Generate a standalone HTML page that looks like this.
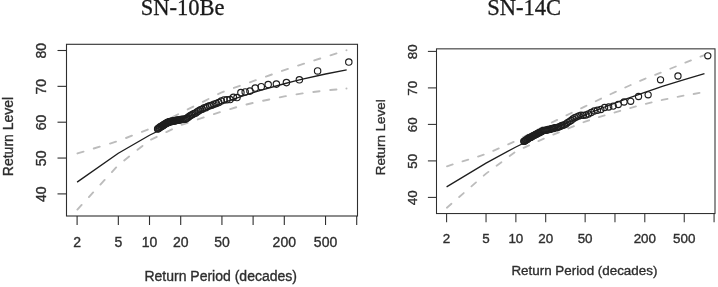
<!DOCTYPE html>
<html><head><meta charset="utf-8"><title>Return level plots</title>
<style>
html,body{margin:0;padding:0;background:#fff;}
body{width:718px;height:287px;overflow:hidden;font-family:"Liberation Sans",sans-serif;}
svg{display:block;filter:blur(0.4px);}
svg text{font-family:"Liberation Sans",sans-serif;stroke:#2e2e2e;stroke-width:0.35px;}
</style></head><body>
<svg width="718" height="287" viewBox="0 0 718 287">
<rect width="718" height="287" fill="#ffffff"/>
<rect x="66.5" y="44.3" width="291.00" height="171.70" fill="none" stroke="#2e2e2e" stroke-width="1.10"/>
<line x1="57.50" y1="193.90" x2="66.5" y2="193.90" stroke="#2e2e2e" stroke-width="1.10"/>
<text transform="translate(46.30,194.20) rotate(-90)" text-anchor="middle" font-size="14.00" fill="#2e2e2e">40</text>
<line x1="57.50" y1="158.05" x2="66.5" y2="158.05" stroke="#2e2e2e" stroke-width="1.10"/>
<text transform="translate(46.30,158.35) rotate(-90)" text-anchor="middle" font-size="14.00" fill="#2e2e2e">50</text>
<line x1="57.50" y1="122.20" x2="66.5" y2="122.20" stroke="#2e2e2e" stroke-width="1.10"/>
<text transform="translate(46.30,122.50) rotate(-90)" text-anchor="middle" font-size="14.00" fill="#2e2e2e">60</text>
<line x1="57.50" y1="86.35" x2="66.5" y2="86.35" stroke="#2e2e2e" stroke-width="1.10"/>
<text transform="translate(46.30,86.65) rotate(-90)" text-anchor="middle" font-size="14.00" fill="#2e2e2e">70</text>
<line x1="57.50" y1="50.50" x2="66.5" y2="50.50" stroke="#2e2e2e" stroke-width="1.10"/>
<text transform="translate(46.30,50.80) rotate(-90)" text-anchor="middle" font-size="14.00" fill="#2e2e2e">80</text>
<line x1="77.10" y1="216.0" x2="77.10" y2="225.00" stroke="#2e2e2e" stroke-width="1.10"/>
<text x="77.10" y="247.00" text-anchor="middle" font-size="14.00" fill="#2e2e2e">2</text>
<line x1="118.33" y1="216.0" x2="118.33" y2="225.00" stroke="#2e2e2e" stroke-width="1.10"/>
<text x="118.33" y="247.00" text-anchor="middle" font-size="14.00" fill="#2e2e2e">5</text>
<line x1="149.51" y1="216.0" x2="149.51" y2="225.00" stroke="#2e2e2e" stroke-width="1.10"/>
<text x="149.51" y="247.00" text-anchor="middle" font-size="14.00" fill="#2e2e2e">10</text>
<line x1="180.70" y1="216.0" x2="180.70" y2="225.00" stroke="#2e2e2e" stroke-width="1.10"/>
<text x="180.70" y="247.00" text-anchor="middle" font-size="14.00" fill="#2e2e2e">20</text>
<line x1="221.93" y1="216.0" x2="221.93" y2="225.00" stroke="#2e2e2e" stroke-width="1.10"/>
<text x="221.93" y="247.00" text-anchor="middle" font-size="14.00" fill="#2e2e2e">50</text>
<line x1="253.11" y1="216.0" x2="253.11" y2="225.00" stroke="#2e2e2e" stroke-width="1.10"/>
<line x1="284.30" y1="216.0" x2="284.30" y2="225.00" stroke="#2e2e2e" stroke-width="1.10"/>
<text x="284.30" y="247.00" text-anchor="middle" font-size="14.00" fill="#2e2e2e">200</text>
<line x1="325.53" y1="216.0" x2="325.53" y2="225.00" stroke="#2e2e2e" stroke-width="1.10"/>
<text x="325.53" y="247.00" text-anchor="middle" font-size="14.00" fill="#2e2e2e">500</text>
<line x1="356.71" y1="216.0" x2="356.71" y2="225.00" stroke="#2e2e2e" stroke-width="1.10"/>
<text x="220.70" y="280.70" text-anchor="middle" font-size="14.00" fill="#2e2e2e">Return Period (decades)</text>
<text transform="translate(12.50,136.50) rotate(-90)" text-anchor="middle" font-size="14.00" fill="#2e2e2e">Return Level</text>
<text x="182.50" y="15.40" text-anchor="middle" style="font-family:'Liberation Serif',serif;stroke:#1a1a1a;stroke-width:0.3px" font-size="22.5" fill="#1a1a1a">SN-10Be</text>
<path d="M77.10,153.57 L118.33,141.01 L149.51,128.84 L180.70,112.92 L221.93,92.26 L243.07,84.64 L253.11,81.17 L261.32,78.23 L284.30,70.10 L294.34,66.79 L302.54,64.11 L325.53,56.85 L346.67,50.30" fill="none" stroke="#bcbcbc" stroke-width="1.90" stroke-dasharray="6.30 10.70" stroke-dashoffset="-0.4" stroke-linecap="round"/>
<path d="M77.10,209.88 L118.33,165.03 L149.51,140.35 L180.70,125.07 L221.93,111.46 L243.07,105.25 L253.11,102.92 L261.32,101.16 L284.30,96.41 L294.34,94.72 L302.54,93.40 L325.53,90.41 L346.67,88.60" fill="none" stroke="#bcbcbc" stroke-width="1.90" stroke-dasharray="6.30 10.70" stroke-dashoffset="-0.4" stroke-linecap="round"/>
<circle cx="346.47" cy="50.30" r="1.0" fill="#bcbcbc"/>
<circle cx="346.47" cy="88.60" r="1.0" fill="#bcbcbc"/>
<path d="M77.10,182.15 L118.33,153.28 L149.51,135.24 L180.70,119.92 L221.93,103.15 L243.07,95.86 L253.11,92.67 L261.32,90.19 L284.30,83.77 L294.34,81.20 L302.54,79.20 L325.53,74.03 L346.67,69.79" fill="none" stroke="#1e1e1e" stroke-width="1.35" stroke-linejoin="round"/>
<circle cx="157.65" cy="128.96" r="3.20" fill="none" stroke="#1e1e1e" stroke-width="1.15"/>
<circle cx="158.30" cy="128.62" r="3.20" fill="none" stroke="#1e1e1e" stroke-width="1.15"/>
<circle cx="158.95" cy="128.03" r="3.20" fill="none" stroke="#1e1e1e" stroke-width="1.15"/>
<circle cx="159.62" cy="127.81" r="3.20" fill="none" stroke="#1e1e1e" stroke-width="1.15"/>
<circle cx="160.30" cy="127.04" r="3.20" fill="none" stroke="#1e1e1e" stroke-width="1.15"/>
<circle cx="160.98" cy="126.51" r="3.20" fill="none" stroke="#1e1e1e" stroke-width="1.15"/>
<circle cx="161.68" cy="126.50" r="3.20" fill="none" stroke="#1e1e1e" stroke-width="1.15"/>
<circle cx="162.39" cy="125.80" r="3.20" fill="none" stroke="#1e1e1e" stroke-width="1.15"/>
<circle cx="163.11" cy="125.39" r="3.20" fill="none" stroke="#1e1e1e" stroke-width="1.15"/>
<circle cx="163.84" cy="124.88" r="3.20" fill="none" stroke="#1e1e1e" stroke-width="1.15"/>
<circle cx="164.58" cy="124.33" r="3.20" fill="none" stroke="#1e1e1e" stroke-width="1.15"/>
<circle cx="165.34" cy="123.76" r="3.20" fill="none" stroke="#1e1e1e" stroke-width="1.15"/>
<circle cx="166.11" cy="123.45" r="3.20" fill="none" stroke="#1e1e1e" stroke-width="1.15"/>
<circle cx="166.89" cy="122.76" r="3.20" fill="none" stroke="#1e1e1e" stroke-width="1.15"/>
<circle cx="167.69" cy="122.22" r="3.20" fill="none" stroke="#1e1e1e" stroke-width="1.15"/>
<circle cx="168.50" cy="122.38" r="3.20" fill="none" stroke="#1e1e1e" stroke-width="1.15"/>
<circle cx="169.32" cy="121.83" r="3.20" fill="none" stroke="#1e1e1e" stroke-width="1.15"/>
<circle cx="170.17" cy="121.60" r="3.20" fill="none" stroke="#1e1e1e" stroke-width="1.15"/>
<circle cx="171.02" cy="121.68" r="3.20" fill="none" stroke="#1e1e1e" stroke-width="1.15"/>
<circle cx="171.90" cy="121.06" r="3.20" fill="none" stroke="#1e1e1e" stroke-width="1.15"/>
<circle cx="172.79" cy="120.92" r="3.20" fill="none" stroke="#1e1e1e" stroke-width="1.15"/>
<circle cx="173.70" cy="121.12" r="3.20" fill="none" stroke="#1e1e1e" stroke-width="1.15"/>
<circle cx="174.62" cy="121.00" r="3.20" fill="none" stroke="#1e1e1e" stroke-width="1.15"/>
<circle cx="175.57" cy="120.83" r="3.20" fill="none" stroke="#1e1e1e" stroke-width="1.15"/>
<circle cx="176.54" cy="120.16" r="3.20" fill="none" stroke="#1e1e1e" stroke-width="1.15"/>
<circle cx="177.53" cy="119.91" r="3.20" fill="none" stroke="#1e1e1e" stroke-width="1.15"/>
<circle cx="178.54" cy="120.21" r="3.20" fill="none" stroke="#1e1e1e" stroke-width="1.15"/>
<circle cx="179.57" cy="119.96" r="3.20" fill="none" stroke="#1e1e1e" stroke-width="1.15"/>
<circle cx="180.63" cy="119.59" r="3.20" fill="none" stroke="#1e1e1e" stroke-width="1.15"/>
<circle cx="181.72" cy="119.41" r="3.20" fill="none" stroke="#1e1e1e" stroke-width="1.15"/>
<circle cx="182.83" cy="119.31" r="3.20" fill="none" stroke="#1e1e1e" stroke-width="1.15"/>
<circle cx="183.97" cy="119.15" r="3.20" fill="none" stroke="#1e1e1e" stroke-width="1.15"/>
<circle cx="185.13" cy="119.24" r="3.20" fill="none" stroke="#1e1e1e" stroke-width="1.15"/>
<circle cx="186.33" cy="118.61" r="3.20" fill="none" stroke="#1e1e1e" stroke-width="1.15"/>
<circle cx="187.57" cy="117.79" r="3.20" fill="none" stroke="#1e1e1e" stroke-width="1.15"/>
<circle cx="188.83" cy="116.67" r="3.20" fill="none" stroke="#1e1e1e" stroke-width="1.15"/>
<circle cx="190.14" cy="115.86" r="3.20" fill="none" stroke="#1e1e1e" stroke-width="1.15"/>
<circle cx="191.48" cy="114.95" r="3.20" fill="none" stroke="#1e1e1e" stroke-width="1.15"/>
<circle cx="192.87" cy="114.24" r="3.20" fill="none" stroke="#1e1e1e" stroke-width="1.15"/>
<circle cx="194.29" cy="113.43" r="3.20" fill="none" stroke="#1e1e1e" stroke-width="1.15"/>
<circle cx="195.77" cy="112.92" r="3.20" fill="none" stroke="#1e1e1e" stroke-width="1.15"/>
<circle cx="197.30" cy="111.66" r="3.20" fill="none" stroke="#1e1e1e" stroke-width="1.15"/>
<circle cx="198.87" cy="110.80" r="3.20" fill="none" stroke="#1e1e1e" stroke-width="1.15"/>
<circle cx="200.51" cy="109.75" r="3.20" fill="none" stroke="#1e1e1e" stroke-width="1.15"/>
<circle cx="202.21" cy="109.32" r="3.20" fill="none" stroke="#1e1e1e" stroke-width="1.15"/>
<circle cx="203.97" cy="107.99" r="3.20" fill="none" stroke="#1e1e1e" stroke-width="1.15"/>
<circle cx="205.81" cy="107.63" r="3.20" fill="none" stroke="#1e1e1e" stroke-width="1.15"/>
<circle cx="207.72" cy="106.42" r="3.20" fill="none" stroke="#1e1e1e" stroke-width="1.15"/>
<circle cx="209.73" cy="105.76" r="3.20" fill="none" stroke="#1e1e1e" stroke-width="1.15"/>
<circle cx="211.82" cy="105.30" r="3.20" fill="none" stroke="#1e1e1e" stroke-width="1.15"/>
<circle cx="214.01" cy="104.20" r="3.20" fill="none" stroke="#1e1e1e" stroke-width="1.15"/>
<circle cx="216.32" cy="103.50" r="3.20" fill="none" stroke="#1e1e1e" stroke-width="1.15"/>
<circle cx="218.75" cy="102.50" r="3.20" fill="none" stroke="#1e1e1e" stroke-width="1.15"/>
<circle cx="221.33" cy="101.09" r="3.20" fill="none" stroke="#1e1e1e" stroke-width="1.15"/>
<circle cx="224.05" cy="99.94" r="3.20" fill="none" stroke="#1e1e1e" stroke-width="1.15"/>
<circle cx="226.96" cy="99.73" r="3.20" fill="none" stroke="#1e1e1e" stroke-width="1.15"/>
<circle cx="230.06" cy="99.51" r="3.20" fill="none" stroke="#1e1e1e" stroke-width="1.15"/>
<circle cx="233.40" cy="97.33" r="3.20" fill="none" stroke="#1e1e1e" stroke-width="1.15"/>
<circle cx="237.00" cy="97.56" r="3.20" fill="none" stroke="#1e1e1e" stroke-width="1.15"/>
<circle cx="240.91" cy="92.50" r="3.20" fill="none" stroke="#1e1e1e" stroke-width="1.15"/>
<circle cx="245.20" cy="91.90" r="3.20" fill="none" stroke="#1e1e1e" stroke-width="1.15"/>
<circle cx="249.94" cy="91.10" r="3.20" fill="none" stroke="#1e1e1e" stroke-width="1.15"/>
<circle cx="255.24" cy="88.10" r="3.20" fill="none" stroke="#1e1e1e" stroke-width="1.15"/>
<circle cx="261.25" cy="86.70" r="3.20" fill="none" stroke="#1e1e1e" stroke-width="1.15"/>
<circle cx="268.18" cy="84.50" r="3.20" fill="none" stroke="#1e1e1e" stroke-width="1.15"/>
<circle cx="276.39" cy="84.10" r="3.20" fill="none" stroke="#1e1e1e" stroke-width="1.15"/>
<circle cx="286.43" cy="82.60" r="3.20" fill="none" stroke="#1e1e1e" stroke-width="1.15"/>
<circle cx="299.37" cy="79.80" r="3.20" fill="none" stroke="#1e1e1e" stroke-width="1.15"/>
<circle cx="317.61" cy="70.90" r="3.20" fill="none" stroke="#1e1e1e" stroke-width="1.15"/>
<circle cx="348.80" cy="62.10" r="3.20" fill="none" stroke="#1e1e1e" stroke-width="1.15"/>
<rect x="436.5" y="48.85" width="278.50" height="164.70" fill="none" stroke="#2e2e2e" stroke-width="1.05"/>
<line x1="427.89" y1="197.40" x2="436.5" y2="197.40" stroke="#2e2e2e" stroke-width="1.05"/>
<text transform="translate(416.60,197.70) rotate(-90)" text-anchor="middle" font-size="13.40" fill="#2e2e2e">40</text>
<line x1="427.89" y1="160.90" x2="436.5" y2="160.90" stroke="#2e2e2e" stroke-width="1.05"/>
<text transform="translate(416.60,161.20) rotate(-90)" text-anchor="middle" font-size="13.40" fill="#2e2e2e">50</text>
<line x1="427.89" y1="124.40" x2="436.5" y2="124.40" stroke="#2e2e2e" stroke-width="1.05"/>
<text transform="translate(416.60,124.70) rotate(-90)" text-anchor="middle" font-size="13.40" fill="#2e2e2e">60</text>
<line x1="427.89" y1="87.90" x2="436.5" y2="87.90" stroke="#2e2e2e" stroke-width="1.05"/>
<text transform="translate(416.60,88.20) rotate(-90)" text-anchor="middle" font-size="13.40" fill="#2e2e2e">70</text>
<line x1="427.89" y1="51.40" x2="436.5" y2="51.40" stroke="#2e2e2e" stroke-width="1.05"/>
<text transform="translate(416.60,51.70) rotate(-90)" text-anchor="middle" font-size="13.40" fill="#2e2e2e">80</text>
<line x1="446.60" y1="213.55" x2="446.60" y2="222.16" stroke="#2e2e2e" stroke-width="1.05"/>
<text x="446.60" y="243.00" text-anchor="middle" font-size="13.40" fill="#2e2e2e">2</text>
<line x1="486.04" y1="213.55" x2="486.04" y2="222.16" stroke="#2e2e2e" stroke-width="1.05"/>
<text x="486.04" y="243.00" text-anchor="middle" font-size="13.40" fill="#2e2e2e">5</text>
<line x1="515.87" y1="213.55" x2="515.87" y2="222.16" stroke="#2e2e2e" stroke-width="1.05"/>
<text x="515.87" y="243.00" text-anchor="middle" font-size="13.40" fill="#2e2e2e">10</text>
<line x1="545.70" y1="213.55" x2="545.70" y2="222.16" stroke="#2e2e2e" stroke-width="1.05"/>
<text x="545.70" y="243.00" text-anchor="middle" font-size="13.40" fill="#2e2e2e">20</text>
<line x1="585.14" y1="213.55" x2="585.14" y2="222.16" stroke="#2e2e2e" stroke-width="1.05"/>
<text x="585.14" y="243.00" text-anchor="middle" font-size="13.40" fill="#2e2e2e">50</text>
<line x1="614.97" y1="213.55" x2="614.97" y2="222.16" stroke="#2e2e2e" stroke-width="1.05"/>
<line x1="644.80" y1="213.55" x2="644.80" y2="222.16" stroke="#2e2e2e" stroke-width="1.05"/>
<text x="644.80" y="243.00" text-anchor="middle" font-size="13.40" fill="#2e2e2e">200</text>
<line x1="684.24" y1="213.55" x2="684.24" y2="222.16" stroke="#2e2e2e" stroke-width="1.05"/>
<text x="684.24" y="243.00" text-anchor="middle" font-size="13.40" fill="#2e2e2e">500</text>
<line x1="714.07" y1="213.55" x2="714.07" y2="222.16" stroke="#2e2e2e" stroke-width="1.05"/>
<text x="584.40" y="274.60" text-anchor="middle" font-size="13.40" fill="#2e2e2e">Return Period (decades)</text>
<text transform="translate(385.30,137.30) rotate(-90)" text-anchor="middle" font-size="13.40" fill="#2e2e2e">Return Level</text>
<text x="524.10" y="15.40" text-anchor="middle" style="font-family:'Liberation Serif',serif;stroke:#1a1a1a;stroke-width:0.3px" font-size="22.5" fill="#1a1a1a">SN-14C</text>
<path d="M446.60,166.40 L486.04,154.02 L515.87,140.96 L545.70,125.39 L585.14,106.37 L605.36,96.50 L614.97,92.20 L622.81,88.52 L644.80,78.83 L654.40,75.10 L662.25,72.06 L684.24,63.07 L704.46,55.05" fill="none" stroke="#bcbcbc" stroke-width="1.82" stroke-dasharray="6.03 10.24" stroke-dashoffset="-0.4" stroke-linecap="round"/>
<path d="M446.60,208.00 L486.04,173.64 L515.87,151.45 L545.70,137.74 L585.14,121.56 L605.36,115.12 L614.97,112.39 L622.81,110.02 L644.80,104.02 L654.40,101.70 L662.25,99.93 L684.24,95.59 L704.46,92.12" fill="none" stroke="#bcbcbc" stroke-width="1.82" stroke-dasharray="6.03 10.24" stroke-dashoffset="-0.4" stroke-linecap="round"/>
<path d="M446.60,186.89 L486.04,163.13 L515.87,147.00 L545.70,132.31 L585.14,114.89 L605.36,106.75 L614.97,103.06 L622.81,100.13 L644.80,92.29 L654.40,89.03 L662.25,86.44 L684.24,79.51 L704.46,73.54" fill="none" stroke="#1e1e1e" stroke-width="1.29" stroke-linejoin="round"/>
<circle cx="523.74" cy="141.37" r="3.10" fill="none" stroke="#1e1e1e" stroke-width="1.15"/>
<circle cx="524.34" cy="141.32" r="3.10" fill="none" stroke="#1e1e1e" stroke-width="1.15"/>
<circle cx="524.95" cy="140.83" r="3.10" fill="none" stroke="#1e1e1e" stroke-width="1.15"/>
<circle cx="525.57" cy="140.32" r="3.10" fill="none" stroke="#1e1e1e" stroke-width="1.15"/>
<circle cx="526.20" cy="139.93" r="3.10" fill="none" stroke="#1e1e1e" stroke-width="1.15"/>
<circle cx="526.84" cy="139.61" r="3.10" fill="none" stroke="#1e1e1e" stroke-width="1.15"/>
<circle cx="527.48" cy="139.26" r="3.10" fill="none" stroke="#1e1e1e" stroke-width="1.15"/>
<circle cx="528.14" cy="138.50" r="3.10" fill="none" stroke="#1e1e1e" stroke-width="1.15"/>
<circle cx="528.81" cy="138.00" r="3.10" fill="none" stroke="#1e1e1e" stroke-width="1.15"/>
<circle cx="529.49" cy="137.84" r="3.10" fill="none" stroke="#1e1e1e" stroke-width="1.15"/>
<circle cx="530.17" cy="137.42" r="3.10" fill="none" stroke="#1e1e1e" stroke-width="1.15"/>
<circle cx="530.87" cy="137.35" r="3.10" fill="none" stroke="#1e1e1e" stroke-width="1.15"/>
<circle cx="531.59" cy="136.64" r="3.10" fill="none" stroke="#1e1e1e" stroke-width="1.15"/>
<circle cx="532.31" cy="136.14" r="3.10" fill="none" stroke="#1e1e1e" stroke-width="1.15"/>
<circle cx="533.04" cy="135.83" r="3.10" fill="none" stroke="#1e1e1e" stroke-width="1.15"/>
<circle cx="533.79" cy="135.55" r="3.10" fill="none" stroke="#1e1e1e" stroke-width="1.15"/>
<circle cx="534.55" cy="135.10" r="3.10" fill="none" stroke="#1e1e1e" stroke-width="1.15"/>
<circle cx="535.33" cy="134.79" r="3.10" fill="none" stroke="#1e1e1e" stroke-width="1.15"/>
<circle cx="536.12" cy="134.26" r="3.10" fill="none" stroke="#1e1e1e" stroke-width="1.15"/>
<circle cx="536.92" cy="133.88" r="3.10" fill="none" stroke="#1e1e1e" stroke-width="1.15"/>
<circle cx="537.74" cy="133.32" r="3.10" fill="none" stroke="#1e1e1e" stroke-width="1.15"/>
<circle cx="538.58" cy="132.80" r="3.10" fill="none" stroke="#1e1e1e" stroke-width="1.15"/>
<circle cx="539.43" cy="132.73" r="3.10" fill="none" stroke="#1e1e1e" stroke-width="1.15"/>
<circle cx="540.30" cy="132.10" r="3.10" fill="none" stroke="#1e1e1e" stroke-width="1.15"/>
<circle cx="541.19" cy="131.82" r="3.10" fill="none" stroke="#1e1e1e" stroke-width="1.15"/>
<circle cx="542.10" cy="131.18" r="3.10" fill="none" stroke="#1e1e1e" stroke-width="1.15"/>
<circle cx="543.02" cy="130.58" r="3.10" fill="none" stroke="#1e1e1e" stroke-width="1.15"/>
<circle cx="543.97" cy="130.33" r="3.10" fill="none" stroke="#1e1e1e" stroke-width="1.15"/>
<circle cx="544.93" cy="130.35" r="3.10" fill="none" stroke="#1e1e1e" stroke-width="1.15"/>
<circle cx="545.92" cy="130.28" r="3.10" fill="none" stroke="#1e1e1e" stroke-width="1.15"/>
<circle cx="546.94" cy="130.10" r="3.10" fill="none" stroke="#1e1e1e" stroke-width="1.15"/>
<circle cx="547.97" cy="129.53" r="3.10" fill="none" stroke="#1e1e1e" stroke-width="1.15"/>
<circle cx="549.04" cy="129.53" r="3.10" fill="none" stroke="#1e1e1e" stroke-width="1.15"/>
<circle cx="550.13" cy="129.42" r="3.10" fill="none" stroke="#1e1e1e" stroke-width="1.15"/>
<circle cx="551.24" cy="128.74" r="3.10" fill="none" stroke="#1e1e1e" stroke-width="1.15"/>
<circle cx="552.39" cy="128.41" r="3.10" fill="none" stroke="#1e1e1e" stroke-width="1.15"/>
<circle cx="553.57" cy="128.53" r="3.10" fill="none" stroke="#1e1e1e" stroke-width="1.15"/>
<circle cx="554.78" cy="127.77" r="3.10" fill="none" stroke="#1e1e1e" stroke-width="1.15"/>
<circle cx="556.03" cy="127.66" r="3.10" fill="none" stroke="#1e1e1e" stroke-width="1.15"/>
<circle cx="557.32" cy="127.49" r="3.10" fill="none" stroke="#1e1e1e" stroke-width="1.15"/>
<circle cx="558.64" cy="127.11" r="3.10" fill="none" stroke="#1e1e1e" stroke-width="1.15"/>
<circle cx="560.01" cy="126.39" r="3.10" fill="none" stroke="#1e1e1e" stroke-width="1.15"/>
<circle cx="561.42" cy="125.67" r="3.10" fill="none" stroke="#1e1e1e" stroke-width="1.15"/>
<circle cx="562.88" cy="125.16" r="3.10" fill="none" stroke="#1e1e1e" stroke-width="1.15"/>
<circle cx="564.39" cy="124.87" r="3.10" fill="none" stroke="#1e1e1e" stroke-width="1.15"/>
<circle cx="565.95" cy="123.94" r="3.10" fill="none" stroke="#1e1e1e" stroke-width="1.15"/>
<circle cx="567.58" cy="122.62" r="3.10" fill="none" stroke="#1e1e1e" stroke-width="1.15"/>
<circle cx="569.26" cy="121.58" r="3.10" fill="none" stroke="#1e1e1e" stroke-width="1.15"/>
<circle cx="571.02" cy="120.53" r="3.10" fill="none" stroke="#1e1e1e" stroke-width="1.15"/>
<circle cx="572.85" cy="118.95" r="3.10" fill="none" stroke="#1e1e1e" stroke-width="1.15"/>
<circle cx="574.77" cy="117.64" r="3.10" fill="none" stroke="#1e1e1e" stroke-width="1.15"/>
<circle cx="576.77" cy="116.86" r="3.10" fill="none" stroke="#1e1e1e" stroke-width="1.15"/>
<circle cx="578.87" cy="115.95" r="3.10" fill="none" stroke="#1e1e1e" stroke-width="1.15"/>
<circle cx="581.08" cy="115.15" r="3.10" fill="none" stroke="#1e1e1e" stroke-width="1.15"/>
<circle cx="583.40" cy="115.31" r="3.10" fill="none" stroke="#1e1e1e" stroke-width="1.15"/>
<circle cx="585.86" cy="115.01" r="3.10" fill="none" stroke="#1e1e1e" stroke-width="1.15"/>
<circle cx="588.47" cy="113.98" r="3.10" fill="none" stroke="#1e1e1e" stroke-width="1.15"/>
<circle cx="591.25" cy="112.47" r="3.10" fill="none" stroke="#1e1e1e" stroke-width="1.15"/>
<circle cx="594.22" cy="111.03" r="3.10" fill="none" stroke="#1e1e1e" stroke-width="1.15"/>
<circle cx="597.41" cy="110.25" r="3.10" fill="none" stroke="#1e1e1e" stroke-width="1.15"/>
<circle cx="600.85" cy="109.50" r="3.10" fill="none" stroke="#1e1e1e" stroke-width="1.15"/>
<circle cx="604.60" cy="107.50" r="3.10" fill="none" stroke="#1e1e1e" stroke-width="1.15"/>
<circle cx="608.70" cy="107.00" r="3.10" fill="none" stroke="#1e1e1e" stroke-width="1.15"/>
<circle cx="613.23" cy="106.10" r="3.10" fill="none" stroke="#1e1e1e" stroke-width="1.15"/>
<circle cx="618.30" cy="104.50" r="3.10" fill="none" stroke="#1e1e1e" stroke-width="1.15"/>
<circle cx="624.05" cy="102.00" r="3.10" fill="none" stroke="#1e1e1e" stroke-width="1.15"/>
<circle cx="630.69" cy="101.30" r="3.10" fill="none" stroke="#1e1e1e" stroke-width="1.15"/>
<circle cx="638.53" cy="96.50" r="3.10" fill="none" stroke="#1e1e1e" stroke-width="1.15"/>
<circle cx="648.14" cy="94.80" r="3.10" fill="none" stroke="#1e1e1e" stroke-width="1.15"/>
<circle cx="660.52" cy="79.80" r="3.10" fill="none" stroke="#1e1e1e" stroke-width="1.15"/>
<circle cx="677.97" cy="76.00" r="3.10" fill="none" stroke="#1e1e1e" stroke-width="1.15"/>
<circle cx="707.80" cy="55.80" r="3.10" fill="none" stroke="#1e1e1e" stroke-width="1.15"/>
</svg>
</body></html>
